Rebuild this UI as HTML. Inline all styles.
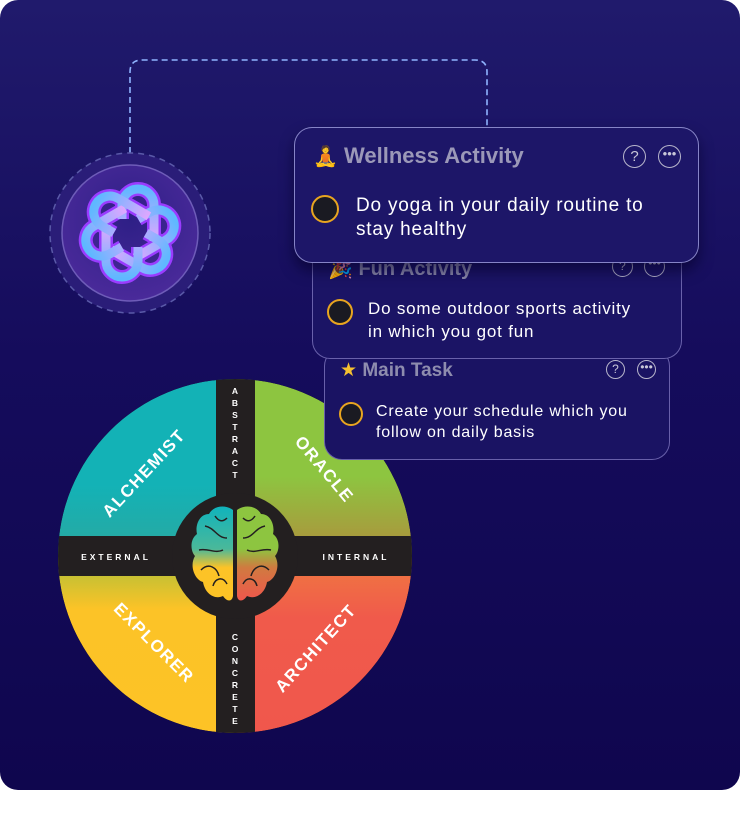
<!DOCTYPE html>
<html><head><meta charset="utf-8"><style>
html,body{margin:0;padding:0;background:#fff;width:740px;height:826px;overflow:hidden;font-family:"Liberation Sans","DejaVu Sans",sans-serif}
.bg{position:absolute;left:0;top:0;width:740px;height:790px;border-radius:18px;background:linear-gradient(180deg,#201a6c 0%,#150c5c 45%,#0f064e 100%)}
.card{position:absolute;border-radius:18px;border:1.5px solid rgba(170,160,230,.55);background:#1c1566;box-sizing:border-box}
.title{position:absolute;color:#9b98b8;font-weight:bold}
.txt{position:absolute;color:#fff;letter-spacing:.8px}
.dot{position:absolute;border-radius:50%;background:#1a1a22;border:2.5px solid #e8a520;box-sizing:border-box}
.ic{position:absolute;border:1.5px solid #b8b6cc;border-radius:50%;box-sizing:border-box;color:#c8c6d8;text-align:center;font-size:14px}
</style></head><body>
<div class="bg"></div>
<svg style="position:absolute;left:0;top:0" width="740" height="826">
<defs>
<linearGradient id="lg" gradientUnits="userSpaceOnUse" x1="0" y1="-45" x2="0" y2="45"><stop offset="0" stop-color="#5fb8ff"/><stop offset=".6" stop-color="#e2a6ff"/><stop offset="1" stop-color="#b040ff"/></linearGradient>
<radialGradient id="cg" cx=".5" cy=".4" r=".6"><stop offset="0" stop-color="#2e1f86"/><stop offset="1" stop-color="#4a2a9a"/></radialGradient>
<linearGradient id="tr" x1="0" y1="0" x2="0" y2="1"><stop offset=".55" stop-color="#8dc540"/><stop offset="1" stop-color="#b08e3c"/></linearGradient>
<linearGradient id="bl" x1="0" y1="0" x2="0" y2="1"><stop offset="0" stop-color="#a9bf3a"/><stop offset=".3" stop-color="#fcc327"/><stop offset="1" stop-color="#fdc326"/></linearGradient>
<linearGradient id="br" x1="0" y1="0" x2="0" y2="1"><stop offset="0" stop-color="#ef7a40"/><stop offset=".35" stop-color="#f05a4b"/><stop offset="1" stop-color="#f0574c"/></linearGradient>
<linearGradient id="tl" x1="0" y1="0" x2="0" y2="1"><stop offset=".6" stop-color="#13b2b6"/><stop offset="1" stop-color="#2aa8a0"/></linearGradient>
<linearGradient id="brL" x1="0" y1="0" x2="0" y2="1"><stop offset="0" stop-color="#10b3bc"/><stop offset=".45" stop-color="#4ab89a"/><stop offset=".65" stop-color="#fcc327"/><stop offset="1" stop-color="#fdc326"/></linearGradient>
<linearGradient id="brR" x1="0" y1="0" x2="0" y2="1"><stop offset="0" stop-color="#8dc540"/><stop offset=".45" stop-color="#8dc540"/><stop offset=".65" stop-color="#d07a40"/><stop offset="1" stop-color="#f0574c"/></linearGradient>
<clipPath id="wc"><circle cx="0" cy="0" r="177"/></clipPath>
</defs>
<path d="M130 153 V72 Q130 60 142 60 H475 Q487 60 487 72 V127" fill="none" stroke="#8fb4ff" stroke-width="1.6" stroke-dasharray="6 4"/>
<circle cx="130" cy="233" r="80" fill="#2a1d78" stroke="#5a5aa8" stroke-width="1.5" stroke-dasharray="6 5"/>
<circle cx="130" cy="233" r="68" fill="url(#cg)" stroke="#6e5cb8" stroke-width="1.5"/>
<g transform="translate(130,233)" fill="none" stroke-linejoin="round">
<g stroke="#9a3cff" stroke-width="14">
<path d="M-8 -14 V-28 A16 16 0 0 1 24 -28 V8"/>
<path d="M-8 -14 V-28 A16 16 0 0 1 24 -28 V8" transform="rotate(60)"/>
<path d="M-8 -14 V-28 A16 16 0 0 1 24 -28 V8" transform="rotate(120)"/>
<path d="M-8 -14 V-28 A16 16 0 0 1 24 -28 V8" transform="rotate(180)"/>
<path d="M-8 -14 V-28 A16 16 0 0 1 24 -28 V8" transform="rotate(240)"/>
<path d="M-8 -14 V-28 A16 16 0 0 1 24 -28 V8" transform="rotate(300)"/>
</g>
<g stroke="url(#lg)" stroke-width="9">
<path d="M-8 -14 V-28 A16 16 0 0 1 24 -28 V8"/>
<path d="M-8 -14 V-28 A16 16 0 0 1 24 -28 V8" transform="rotate(60)"/>
<path d="M-8 -14 V-28 A16 16 0 0 1 24 -28 V8" transform="rotate(120)"/>
<path d="M-8 -14 V-28 A16 16 0 0 1 24 -28 V8" transform="rotate(180)"/>
<path d="M-8 -14 V-28 A16 16 0 0 1 24 -28 V8" transform="rotate(240)"/>
<path d="M-8 -14 V-28 A16 16 0 0 1 24 -28 V8" transform="rotate(300)"/>
</g>
</g>
<!-- wheel -->
<g transform="translate(235,556)">
<g clip-path="url(#wc)">
<circle r="178" fill="#231f20"/>
<path d="M0 0 V-177 A177 177 0 0 0 -177 0 Z" fill="url(#tl)"/>
<path d="M0 0 V-177 A177 177 0 0 1 177 0 Z" fill="url(#tr)"/>
<path d="M0 0 H-177 A177 177 0 0 0 0 177 Z" fill="url(#bl)"/>
<path d="M0 0 H177 A177 177 0 0 1 0 177 Z" fill="url(#br)"/>
<rect x="-19" y="-179" width="39" height="358" fill="#231f20"/>
<rect x="-179" y="-20" width="358" height="40" fill="#231f20"/>
</g>
<circle r="63" fill="#231f20"/>
<path d="M-2 -46 C-10 -52 -22 -50 -26 -42 C-36 -42 -40 -30 -38 -22 C-46 -16 -44 -4 -40 0 C-46 10 -40 24 -32 26 C-30 38 -20 44 -12 40 C-8 46 -3 46 -2 40 Z" fill="url(#brL)"/>
<path d="M2 -46 C10 -52 22 -50 26 -42 C36 -42 40 -30 38 -22 C46 -16 44 -4 40 0 C46 10 40 24 32 26 C30 38 20 44 12 40 C8 46 3 46 2 40 Z" fill="url(#brR)"/>
<g fill="none" stroke="#231f20" stroke-width="1.5">
<path d="M-30 -30 C-20 -28 -18 -18 -8 -18 M-36 -6 C-26 -8 -20 -2 -12 -6 M-34 14 C-26 6 -18 12 -16 20 M-22 30 C-20 22 -12 20 -8 28 M-20 -40 C-16 -34 -12 -34 -8 -38"/>
<path d="M30 -30 C20 -28 18 -18 8 -18 M36 -6 C26 -8 20 -2 12 -6 M34 14 C26 6 18 12 16 20 M22 30 C20 22 12 20 8 28 M20 -40 C16 -34 12 -34 8 -38"/>
</g>
</g>
<g fill="#fff" font-family="Liberation Sans,sans-serif" font-weight="bold" font-size="8.5" text-anchor="middle">
<text x="235" y="394">A</text><text x="235" y="406">B</text><text x="235" y="418">S</text><text x="235" y="430">T</text><text x="235" y="442">R</text><text x="235" y="454">A</text><text x="235" y="466">C</text><text x="235" y="478">T</text>
<text x="235" y="640">C</text><text x="235" y="652">O</text><text x="235" y="664">N</text><text x="235" y="676">C</text><text x="235" y="688">R</text><text x="235" y="700">E</text><text x="235" y="712">T</text><text x="235" y="724">E</text>
<text x="116" y="560" letter-spacing="3">EXTERNAL</text>
<text x="356" y="560" letter-spacing="3">INTERNAL</text>
</g>
<g fill="#fff" font-family="Liberation Sans,sans-serif" font-weight="bold" font-size="17" text-anchor="middle" letter-spacing="1.5">
<text transform="translate(148,477) rotate(-47)">ALCHEMIST</text>
<text transform="translate(320,473) rotate(50)">ORACLE</text>
<text transform="translate(150,647) rotate(45)">EXPLORER</text>
<text transform="translate(320,652) rotate(-48)">ARCHITECT</text>
</g>
</svg>

<div class="card" style="left:324px;top:348px;width:346px;height:112px;background:#1a1363"></div>
<div class="title" style="left:340px;top:359px;font-size:19px;color:#8e8cae"><span style="color:#f5c030">★</span> Main Task</div>
<div class="ic" style="left:606px;top:360px;width:19px;height:19px;line-height:17px;font-size:12px">?</div>
<div class="ic" style="left:637px;top:360px;width:19px;height:19px;line-height:12px;font-size:12px">•••</div>
<div class="dot" style="left:339px;top:402px;width:24px;height:24px"></div>
<div class="txt" style="left:376px;top:401px;font-size:16px;line-height:21px">Create your schedule which you<br>follow on daily basis</div>

<div class="card" style="left:312px;top:245px;width:370px;height:114px;background:#1b1465"></div>
<div class="title" style="left:328px;top:256px;font-size:20px;color:#8e8cae"><span style="color:#d9a040">🎉</span> Fun Activity</div>
<div class="ic" style="left:612px;top:256px;width:21px;height:21px;line-height:19px;font-size:12px">?</div>
<div class="ic" style="left:644px;top:256px;width:21px;height:21px;line-height:13px;font-size:12px">•••</div>
<div class="dot" style="left:327px;top:299px;width:26px;height:26px"></div>
<div class="txt" style="left:368px;top:297px;font-size:17px;line-height:23px">Do some outdoor sports activity<br>in which you got fun</div>

<div class="card" style="left:294px;top:127px;width:405px;height:136px;background:#1d1668;border-color:rgba(180,180,240,.7);box-shadow:0 8px 14px rgba(5,0,40,.6)"></div>
<div class="title" style="left:313px;top:143px;font-size:22px"><span style="color:#f0a020;font-size:20px">🧘</span> Wellness Activity</div>
<div class="ic" style="left:623px;top:145px;width:23px;height:23px;line-height:21px;font-size:15px">?</div>
<div class="ic" style="left:658px;top:145px;width:23px;height:23px;line-height:15px;font-size:13px">•••</div>
<div class="dot" style="left:311px;top:195px;width:28px;height:28px"></div>
<div class="txt" style="left:356px;top:194px;font-size:19px;line-height:24px">Do yoga in your daily routine to<br>stay healthy</div>
</body></html>
